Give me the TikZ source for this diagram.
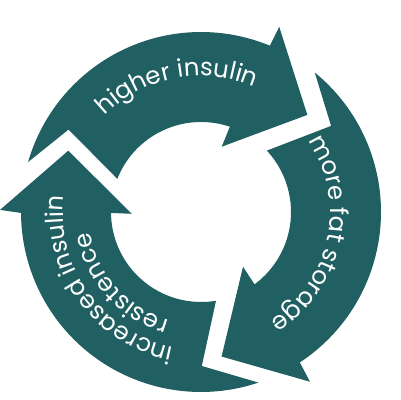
\documentclass[tikz,border=0pt]{standalone}
\usepackage{fontspec}
\newfontfamily\cyclefont{Poppins}
\usepackage{tikz}
\usetikzlibrary{decorations.text}
\definecolor{cycleteal}{RGB}{32,96,99}
\newcommand{\labelfont}{\cyclefont\fontsize{12.2}{14}\selectfont}

\begin{document}
\begin{tikzpicture}[x=0.5pt, y=0.5pt,
  cyclearrow/.style={fill=cycleteal},
  cyclelabel/.style={decorate, decoration={text along path, text align=center, text color=white}}]
\useasboundingbox (0,0) rectangle (400,400);
\begin{scope}[shift={(201,188)}]
% higher insulin
\fill[cyclearrow] (163.9:180) -- (148.1:156) -- (158.4:90) arc[start angle=158.4, end angle=71.3, radius=90]
  -- (72.4:68.5) -- (42.4:144) -- (67.1:201) -- (67.5:180) arc[start angle=67.5, end angle=163.9, radius=180] -- cycle;
% more fat storage
\fill[cyclearrow] (50.8:180) -- (33.5:156) -- (43:90) arc[start angle=43, end angle=-53.5, radius=90]
  -- (-52.5:69) -- (-81.9:146) -- (-57.3:201.7) -- (-56.7:180) arc[start angle=-56.7, end angle=50.8, radius=180] -- cycle;
% increased insulin resistence
\fill[cyclearrow] (-71.4:180) -- (-89.7:154) -- (-80.4:90) arc[start angle=-80.4, end angle=-179.4, radius=90]
  -- (181.5:69.3) -- (155.2:146.2) -- (179.4:201) -- (180.3:180) arc[start angle=180.3, end angle=288.6, radius=180] -- cycle;

\path[cyclelabel, decoration={text={|\labelfont|higher insulin}}] (161:136) arc[start angle=161, end angle=41, radius=136];
\path[cyclelabel, decoration={text={|\labelfont|more fat storage}}] (58:129) arc[start angle=58, end angle=-82, radius=129];
\path[cyclelabel, decoration={text={|\labelfont|increased insulin}}] (286:138) arc[start angle=286, end angle=146, radius=138];
\path[cyclelabel, decoration={text={|\labelfont|resistence}}] (282:113) arc[start angle=282, end angle=162, radius=113];
\end{scope}
\end{tikzpicture}
\end{document}
